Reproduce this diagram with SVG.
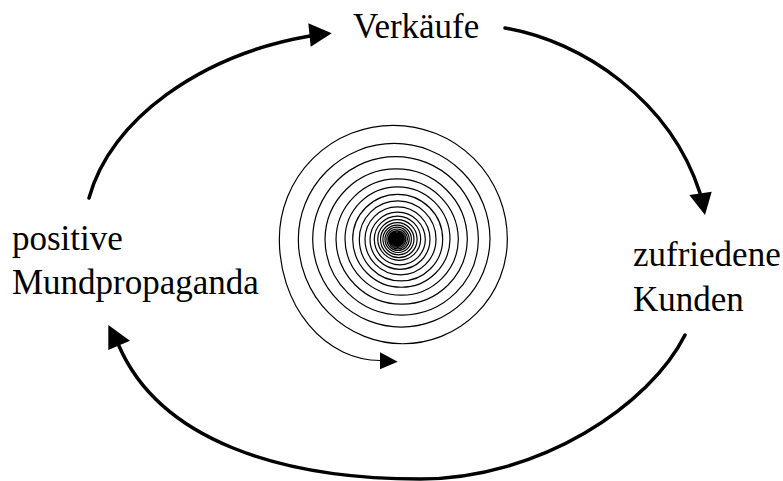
<svg xmlns="http://www.w3.org/2000/svg" width="783" height="481" viewBox="0 0 783 481">
<style>
.lbl{font-family:"Liberation Serif","Times New Roman",serif;font-size:35px;fill:#000}
.conn{fill:none;stroke:#000;stroke-width:3.5;stroke-linecap:round}
.head{fill:#000;stroke:none}
.spiral{fill:none;stroke:#000;stroke-width:1.2}
</style>
<rect width="783" height="481" fill="#fff"/>
<g id="node-verkaeufe"><text class="lbl" x="353" y="38">Verkäufe</text></g>
<g id="node-kunden"><text class="lbl" x="633" y="266">zufriedene</text><text class="lbl" x="633" y="311">Kunden</text></g>
<g id="node-mundpropaganda"><text class="lbl" x="12" y="250">positive</text><text class="lbl" x="12" y="294">Mundpropaganda</text></g>
<g id="connectors">
<path class="conn" d="M89,198 C110,120 200,55 310,36"/>
<polygon class="head" points="331.7,33.3 308.3,23.3 310.7,46.7"/>
<path class="conn" d="M505,28 C582,41 670,100 700,193"/>
<polygon class="head" points="705,215 689.3,195 711.7,191.7"/>
<path class="conn" d="M685,335 C650,405 540,479 420,479 C280,479 160,440 119,346"/>
<polygon class="head" points="108.3,325 108.3,350 130,340.7"/>
</g>
<g id="spiral">
<path class="spiral" d="M380,360.5 A100.7 121.2 0 0 1 279.33,239.3
A114 114 0 0 1 507.33,239.3
A104.5 104.5 0 0 1 298.33,239.3
A95.83 95.83 0 0 1 490,239.3
A88.67 88.67 0 0 1 312.67,239.3
A82.83 82.83 0 0 1 478.33,239.3
A76.67 76.67 0 0 1 325,239.3
A71.17 71.17 0 0 1 467.33,239.3
A65.67 65.67 0 0 1 336,239.3
A61.17 61.17 0 0 1 458.33,239.3
A56.67 56.67 0 0 1 345,239.3
A52.5 52.5 0 0 1 450,239.3
A48.67 48.67 0 0 1 352.67,239.3
A45 45 0 0 1 442.67,239.3
A41.67 41.67 0 0 1 359.33,239.3
A38.33 38.33 0 0 1 436,239.3
A35.5 35.5 0 0 1 365,239.3
A32.5 32.5 0 0 1 430,239.3
A30 30 0 0 1 370,239.3
A27.67 27.67 0 0 1 425.33,239.3
A25.5 25.5 0 0 1 374.33,239.3
A23.17 23.17 0 0 1 420.67,239.3
A21.49 21.49 0 0 1 377.7,239.3
A19.7 19.7 0 0 1 417.1,239.3
A18.3 18.3 0 0 1 380.5,239.3
A16.75 16.75 0 0 1 414,239.3
A15.55 15.55 0 0 1 382.9,239.3
A14.25 14.25 0 0 1 411.4,239.3
A13.2 13.2 0 0 1 385,239.3
A12.1 12.1 0 0 1 409.2,239.3
A11.2 11.2 0 0 1 386.8,239.3
A10.3 10.3 0 0 1 407.4,239.3
A9.55 9.55 0 0 1 388.3,239.3
A8.75 8.75 0 0 1 405.8,239.3
A8.15 8.15 0 0 1 389.5,239.3
A7.45 7.45 0 0 1 404.4,239.3
A6.9 6.9 0 0 1 390.6,239.3
A6.3 6.3 0 0 1 403.2,239.3
A5.85 5.85 0 0 1 391.5,239.3
A5.4 5.4 0 0 1 402.3,239.3
A5 5 0 0 1 392.3,239.3
A4.55 4.55 0 0 1 401.4,239.3
A4.25 4.25 0 0 1 392.9,239.3
A3.9 3.9 0 0 1 400.7,239.3
A3.6 3.6 0 0 1 393.5,239.3
A3.3 3.3 0 0 1 400.1,239.3
A3.05 3.05 0 0 1 394,239.3
A2.8 2.8 0 0 1 399.6,239.3
A2.6 2.6 0 0 1 394.4,239.3
A2.4 2.4 0 0 1 399.2,239.3
A2.23 2.23 0 0 1 394.75,239.3
A2.03 2.03 0 0 1 398.8,239.3
A1.88 1.88 0 0 1 395.04,239.3
A1.73 1.73 0 0 1 398.5,239.3
A1.6 1.6 0 0 1 395.3,239.3
A1.45 1.45 0 0 1 398.2,239.3
A1.35 1.35 0 0 1 395.5,239.3
A1.25 1.25 0 0 1 398,239.3
A1.1 1.1 0 0 1 395.8,239.3
A0.95 0.95 0 0 1 397.7,239.3
A0.8 0.8 0 0 1 396.1,239.3
A0.6 0.6 0 0 1 397.3,239.3"/>
<polygon class="head" points="397.7,361.7 380,352.3 380,369.3"/>
</g>
</svg>
